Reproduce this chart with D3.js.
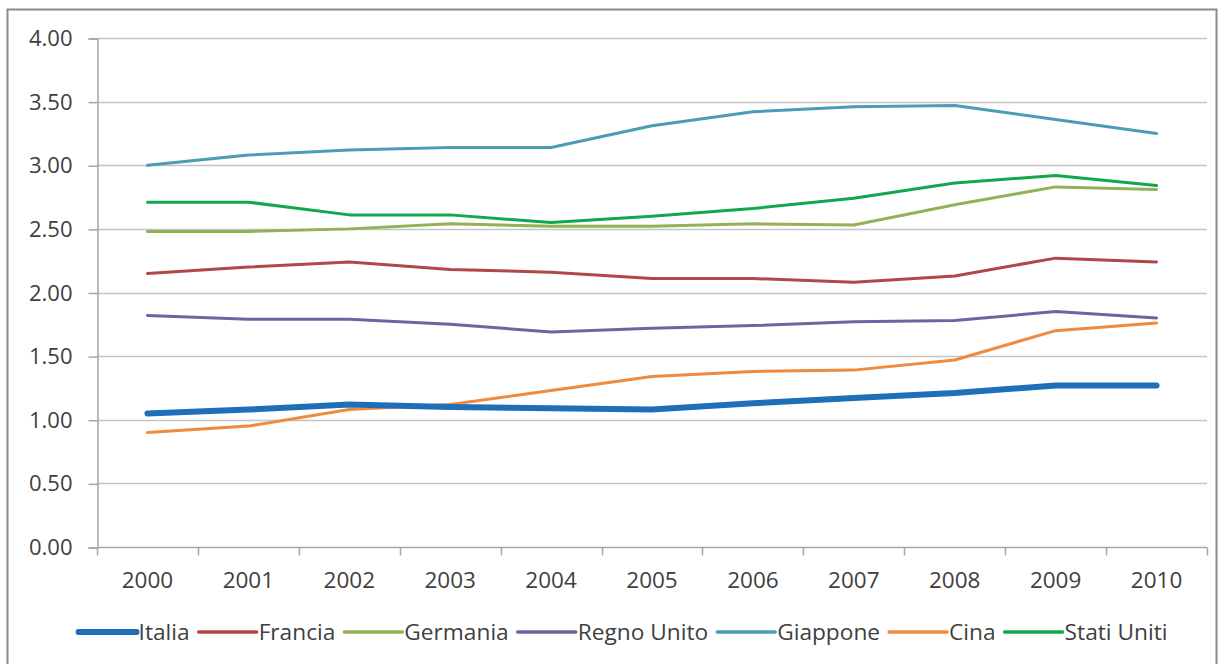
<!DOCTYPE html>
<html>
<head>
<meta charset="utf-8">
<script src="https://cdn.jsdelivr.net/npm/d3@7"></script>
<style>
  html, body { margin: 0; padding: 0; background: #fff; }
  svg { display: block; }
  text { font-family: "Open Sans", sans-serif; fill: #404040; }
</style>
</head>
<body>
<svg id="chart" width="1223" height="664"></svg>
<script>
const years = ["2000","2001","2002","2003","2004","2005","2006","2007","2008","2009","2010"];
const yTicks = [0, 0.5, 1, 1.5, 2, 2.5, 3, 3.5, 4];

const italia     = [1.05, 1.08, 1.12, 1.10, 1.09, 1.08, 1.13, 1.17, 1.21, 1.27, 1.27];
const francia    = [2.15, 2.20, 2.24, 2.18, 2.16, 2.11, 2.11, 2.08, 2.13, 2.27, 2.24];
const germania   = [2.48, 2.48, 2.50, 2.54, 2.52, 2.52, 2.54, 2.53, 2.69, 2.83, 2.81];
const regnoUnito = [1.82, 1.79, 1.79, 1.75, 1.69, 1.72, 1.74, 1.77, 1.78, 1.85, 1.80];
const giappone   = [3.00, 3.08, 3.12, 3.14, 3.14, 3.31, 3.42, 3.46, 3.47, 3.36, 3.25];
const cina       = [0.90, 0.95, 1.08, 1.12, 1.23, 1.34, 1.38, 1.39, 1.47, 1.70, 1.76];
const statiUniti = [2.71, 2.71, 2.61, 2.61, 2.55, 2.60, 2.66, 2.74, 2.86, 2.92, 2.84];

const seriesNames = ["Italia","Francia","Germania","Regno Unito","Giappone","Cina","Stati Uniti"];
const seriesValues = [italia, francia, germania, regnoUnito, giappone, cina, statiUniti];
const seriesColors = ["#1f6fb8","#b0484a","#93b157","#7560a0","#4a9cb8","#ee8b3e","#10a84f"];
const seriesWidths = [6, 3, 3, 3, 3, 3, 3];

const svg = d3.select("#chart");

// outer frame
svg.append("rect")
  .attr("x", 7.5).attr("y", 9.5)
  .attr("width", 1209).attr("height", 700)
  .attr("fill", "#fff").attr("stroke", "#8a8a8a").attr("stroke-width", 2);

const plot = { left: 97, right: 1207, top: 38, bottom: 547 };

const x = d3.scaleBand().domain(years).range([plot.left, plot.right]).padding(0);
const y = d3.scaleLinear().domain([0, 4]).range([plot.bottom, plot.top]);

// gridlines
svg.append("g")
  .selectAll("line")
  .data(yTicks.filter(d => d > 0))
  .join("line")
  .attr("x1", plot.left).attr("x2", plot.right)
  .attr("y1", d => Math.round(y(d)) + 0.5).attr("y2", d => Math.round(y(d)) + 0.5)
  .attr("stroke", "#c4c4c4").attr("stroke-width", 1.5);

// y axis
const yAxis = d3.axisLeft(y).tickValues(yTicks).tickFormat(d3.format(".2f")).tickSize(9).tickPadding(16);
const gy = svg.append("g").attr("transform", `translate(${plot.left + 0.5},0.5)`).call(yAxis);
gy.select(".domain").attr("stroke", "#a6a6a6").attr("stroke-width", 1.5);
gy.selectAll(".tick line").attr("stroke", "#a6a6a6").attr("stroke-width", 1.5);
gy.selectAll(".tick text").attr("font-size", 22).attr("fill", "#404040").attr("font-family", "Open Sans, sans-serif");

// x axis: ticks at category boundaries
const gx = svg.append("g").attr("transform", `translate(0,${plot.bottom + 0.5})`);
gx.append("line").attr("x1", plot.left).attr("x2", plot.right).attr("stroke", "#a6a6a6").attr("stroke-width", 1.5);
const bounds = years.map(d => x(d)).concat([x(years[years.length - 1]) + x.bandwidth()]);
gx.selectAll("line.tk").data(bounds).join("line").attr("class", "tk")
  .attr("x1", d => Math.round(d) + 0.5).attr("x2", d => Math.round(d) + 0.5)
  .attr("y1", 0).attr("y2", 8).attr("stroke", "#a6a6a6").attr("stroke-width", 1.5);
gx.selectAll("text").data(years).join("text")
  .attr("x", d => x(d) + x.bandwidth() / 2)
  .attr("y", 40)
  .attr("text-anchor", "middle")
  .attr("font-size", 22.5)
  .text(d => d);

// lines
const line = d3.line()
  .x((d, i) => x(years[i]) + x.bandwidth() / 2)
  .y(d => y(d));

const order = [2, 3, 1, 4, 6, 5, 0];
svg.append("g").selectAll("path")
  .data(order)
  .join("path")
  .attr("d", i => line(seriesValues[i]))
  .attr("fill", "none")
  .attr("stroke", i => seriesColors[i])
  .attr("stroke-width", i => seriesWidths[i])
  .attr("stroke-linejoin", "round")
  .attr("stroke-linecap", "round");

// legend
const legend = svg.append("g");
const legY = 632;
const lineLen = 58, gapText = 2, gapItem = 9;
const items = legend.selectAll("g").data(seriesNames).join("g");
items.append("line")
  .attr("x1", 0).attr("x2", lineLen).attr("y1", 0).attr("y2", 0)
  .attr("stroke", (d, i) => seriesColors[i])
  .attr("stroke-width", (d, i) => i === 0 ? 6 : 3.5)
  .attr("stroke-linecap", "round");
items.append("text")
  .attr("x", lineLen + gapText)
  .attr("y", 0)
  .attr("dy", "0.35em")
  .attr("font-size", 22.7)
  .text(d => d);
let widths = [];
items.each(function() { widths.push(this.getBBox().width); });
const total = d3.sum(widths) + gapItem * (widths.length - 1);
let cx = 623 - total / 2;
items.attr("transform", (d, i) => {
  const t = `translate(${cx},${legY})`;
  cx += widths[i] + gapItem;
  return t;
});
</script>
</body>
</html>
